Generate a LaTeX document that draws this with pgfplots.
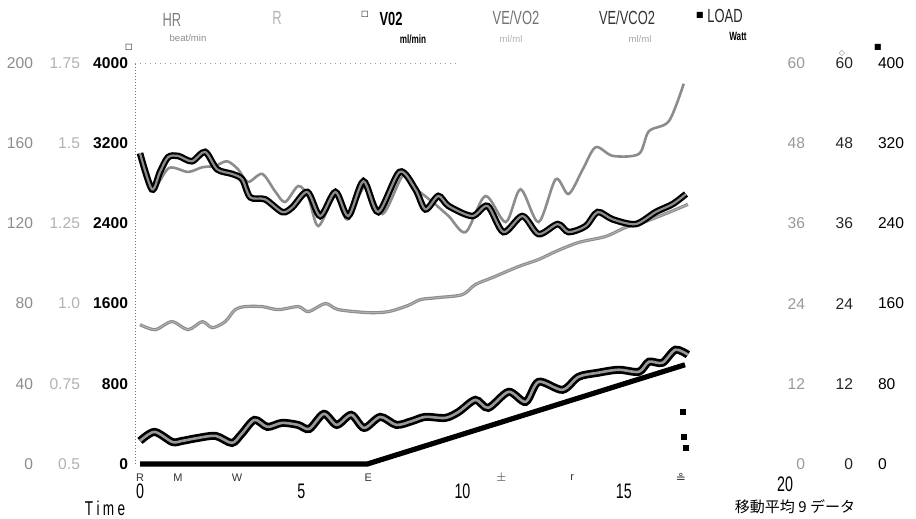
\documentclass[border=0pt]{standalone}
\usepackage{pgfplots}
\pgfplotsset{compat=1.18}
\usepackage{pgfplotstable}
\usepackage{fontspec}
\setmainfont{Liberation Sans}
\newfontfamily\narrow{Liberation Sans}[FakeStretch=0.68]
\newfontfamily\cjk{Noto Sans CJK JP}
\newfontfamily\dejavu{DejaVu Sans}

% VO2, ml/min
\pgfplotstableread{
x y
0.00 230
0.45 320
1.00 220
1.30 230
1.80 260
2.35 280
2.85 210
3.15 300
3.55 440
3.95 370
4.40 410
4.90 390
5.25 350
5.70 500
6.10 390
6.55 490
6.95 360
7.45 470
7.95 390
8.45 430
8.85 470
9.47 460
9.88 520
10.40 640
10.80 560
11.43 720
11.96 620
12.36 820
13.10 740
13.60 870
14.20 910
14.84 940
15.47 920
15.78 1020
16.20 1010
16.60 1140
16.99 1090
}\vo

% HR, beat/min
\pgfplotstableread{
x y
0.00 69.5
0.47 67
0.99 71
1.49 67
1.93 71
2.24 68
2.64 71
2.95 77
3.26 78.5
3.79 78.5
4.29 77
4.91 78.5
5.22 76
5.75 80
6.15 77
7.08 75.5
7.70 76
8.30 79
8.70 82
9.25 83
10.00 84.5
10.40 89.5
10.93 93
11.74 98.5
12.36 102
12.89 106
13.60 110.5
14.44 113.5
15.06 118
15.68 121
16.40 125.5
16.99 129.5
}\hr

% VE/VCO2
\pgfplotstableread{
x y
0.00 46.5
0.37 41.1
0.62 43.7
0.87 45.9
1.18 46.1
1.61 45.3
2.02 46.7
2.39 44.1
2.86 43.4
3.17 42.6
3.42 39.9
3.88 39.6
4.41 37.7
4.72 38.4
5.19 40.7
5.59 37.1
6.06 40.7
6.46 37.1
6.93 42.3
7.39 37.7
8.05 43.7
8.54 41.1
8.85 38.1
9.25 40.1
9.57 38.6
10.30 37.1
10.78 38.6
11.27 34.7
11.86 37.1
12.36 34.4
12.95 35.9
13.29 34.7
13.82 35.6
14.19 37.7
14.66 36.6
15.37 35.9
15.99 37.7
16.52 38.9
16.93 40.4
}\vevco

% VE/VO2
\pgfplotstableread{
x y
0.00 46.5
0.40 41.3
0.90 44.3
1.49 43.7
1.93 44.4
2.33 44.6
2.70 45.3
3.04 44.1
3.35 42.2
3.79 43.4
4.19 40.8
4.50 39.2
4.91 41.6
5.22 39.9
5.53 35.6
6.06 40.1
6.43 36.6
6.99 41.6
7.52 37.4
8.14 43.1
8.45 41.6
9.07 39.2
9.57 37.1
10.10 34.7
10.71 40.1
11.34 36.2
11.80 41.1
12.36 36.2
12.89 42.6
13.29 40.4
13.73 44.1
14.13 47.4
14.66 46.1
15.47 46.4
15.78 49.8
16.40 51.3
16.86 56.9
}\vevo

% LOAD, Watt
\pgfplotstableread{
x y
0.00 0
7.05 0
16.90 99
}\load

\begin{document}
\begin{tikzpicture}
\path[use as bounding box] (0,0) rectangle (458pt,259.5pt);
\pgfplotsset{base/.style={at={(70pt,27.5pt)}, anchor=south west, scale only axis,
  width=322.5pt, height=200.5pt, xmin=0, xmax=20, clip=false,
  axis line style={draw=none}, major tick length=0pt, scaled ticks=false,
  /pgf/number format/assume math mode=true}}
\def\tfont{\fontsize{7.8}{8}\selectfont}
\tikzset{ev/.style={font=\fontsize{5.5}{6}\selectfont, text=black!80, yshift=-7pt}}

% HR axis
\begin{axis}[base, ymin=0, ymax=200, hide x axis,
  ytick={0,40,80,120,160,200}, yticklabels={0,40,80,120,160,200},
  yticklabel style={font=\tfont, text=black!45, xshift=-50pt}]
\addplot[black!45, line width=1.6pt, smooth] table {\hr};
\addplot[white!70!black, line width=0.5pt, smooth] table {\hr};
\end{axis}

% R axis (labels only)
\begin{axis}[base, ymin=0.5, ymax=1.75, hide x axis,
  ytick={0.5,0.75,1,1.25,1.5,1.75}, yticklabels={0.5,0.75,1.0,1.25,1.5,1.75},
  yticklabel style={font=\tfont, text=black!30, xshift=-26.5pt}]
\end{axis}

% LOAD axis
\begin{axis}[base, ymin=0, ymax=400, hide x axis, yticklabel pos=right,
  ytick={0,80,160,240,320,400}, yticklabels={0,80,160,240,320,400},
  yticklabel style={font=\tfont, text=black, anchor=west, xshift=43pt}]
\addplot[black, line width=2.6pt] table {\load};
\end{axis}

% VO2 main axis
\begin{axis}[base, ymin=0, ymax=4000,
  ytick={0,800,1600,2400,3200,4000}, yticklabels={0,800,1600,2400,3200,4000},
  yticklabel style={font=\bfseries\tfont, xshift=-2.5pt},
  xtick={0,5,10,15,20}, xticklabels={0,5,10,15,\raisebox{-3.5pt}[0pt][0pt]{20}},
  xticklabel style={font=\narrow\fontsize{10.5}{11}\selectfont, yshift=-6.5pt}]
\draw[densely dotted, black!55, line width=0.5pt] (axis cs:-0.15,0) -- (axis cs:-0.15,4000);
\draw[dotted, black!40, line width=0.5pt] (axis cs:-0.15,4000) -- (axis cs:9.8,4000);
\addplot[black, line width=4pt, smooth] table {\vo};
\addplot[black!40, line width=1.3pt, smooth] table {\vo};
\addplot[black, only marks, mark=square*, mark size=1.1pt] coordinates {(16.83,520) (16.86,270) (16.93,160)};
\node[ev] at (axis cs:0,0) {R};
\node[ev] at (axis cs:1.18,0) {M};
\node[ev] at (axis cs:3.01,0) {W};
\node[ev] at (axis cs:7.08,0) {E};
\node[ev] at (axis cs:13.4,0) {r};
\node[ev] at (axis cs:11.2,0) {$\pm$};
\node[ev, font=\dejavu\fontsize{6}{6}\selectfont] at (axis cs:16.77,0) {≗};
\end{axis}

% VE/VO2 axis
\begin{axis}[base, ymin=0, ymax=60, hide x axis, yticklabel pos=right,
  ytick={0,12,24,36,48,60}, yticklabels={0,12,24,36,48,60},
  yticklabel style={font=\tfont, text=black!40, anchor=east, xshift=13.5pt}]
\addplot[black!45, line width=1.3pt, smooth] table {\vevo};
\end{axis}

% VE/VCO2 axis
\begin{axis}[base, ymin=0, ymax=60, hide x axis, yticklabel pos=right,
  ytick={0,12,24,36,48,60}, yticklabels={0,12,24,36,48,60},
  yticklabel style={font=\tfont, text=black!85, anchor=east, xshift=37.5pt}]
\addplot[black, line width=3.3pt, smooth] table {\vevco};
\addplot[black!45, line width=1.1pt, smooth] table {\vevco};
\end{axis}

% header
\node[font=\narrow\fontsize{9.5}{10}\selectfont, text=black!50] at (86pt,249.5pt) {HR};
\node[font=\fontsize{4.8}{5}\selectfont, text=black!45] at (94pt,240.5pt) {beat/min};
\node[font=\narrow\fontsize{9.5}{10}\selectfont, text=black!30] at (138.5pt,250.5pt) {R};
\node[font=\dejavu\fontsize{4}{4}\selectfont] at (182.5pt,252.5pt) {□};
\node[font=\narrow\bfseries\fontsize{9.5}{10}\selectfont] at (195.5pt,250pt) {V02};
\node[font=\narrow\bfseries\fontsize{6}{6}\selectfont] at (206.5pt,240pt) {ml/min};
\node[font=\narrow\fontsize{9.5}{10}\selectfont, text=black!55] at (258pt,250.5pt) {VE/VO2};
\node[font=\fontsize{4.8}{5}\selectfont, text=black!30] at (255.5pt,240pt) {ml/ml};
\node[font=\narrow\fontsize{9.5}{10}\selectfont, text=black!80] at (313.5pt,250.5pt) {VE/VCO2};
\node[font=\fontsize{4.8}{5}\selectfont, text=black!35] at (320pt,240pt) {ml/ml};
\node[font=\dejavu\fontsize{4}{4}\selectfont] at (350pt,252pt) {■};
\node[font=\narrow\fontsize{9.5}{10}\selectfont, text=black!85] at (362.5pt,251.5pt) {LOAD};
\node[font=\narrow\bfseries\fontsize{6}{6}\selectfont] at (369pt,241.5pt) {Watt};
\node[font=\dejavu\fontsize{4}{4}\selectfont] at (64.5pt,236pt) {□};
\node[font=\dejavu\fontsize{4}{4}\selectfont, text=black!50] at (421pt,233pt) {◇};
\node[font=\dejavu\fontsize{4}{4}\selectfont] at (439pt,236pt) {■};
% footer
\node[font=\narrow\fontsize{10}{10}\selectfont] at (52.5pt,5.5pt) {T\,i\,m\,e};
\node[font=\cjk\fontsize{7.5}{8}\selectfont] at (397.5pt,6pt) {移動平均 9 データ};
\end{tikzpicture}
\end{document}
